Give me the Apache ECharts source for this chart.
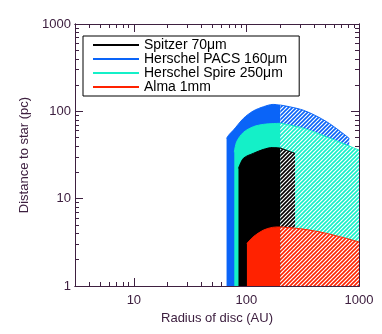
<!DOCTYPE html>
<html>
<head>
<meta charset="utf-8">
<script src="https://cdn.jsdelivr.net/npm/echarts@6/dist/echarts.min.js"></script>
<style>
  html, body { margin: 0; padding: 0; background: #fff; }
  #main { width: 382px; height: 334px; }
</style>
</head>
<body>
<div id="main"></div>
<script>
// disc radius (AU) / max distance (pc), solid part up to 200 AU, hatched beyond
const pacsR = [66.6, 70, 76.7, 94, 115, 142, 172, 200]
const pacsD = [49, 54, 61, 83, 101, 113, 120, 118]
const pacsHatchR = [200, 320, 516, 820]
const pacsHatchD = [118, 103, 76, 49]

const spireR = [78, 82, 94, 115, 142, 200]
const spireD = [34, 45, 57.4, 66.6, 71, 73]
const spireHatchR = [200, 320, 516, 1000]
const spireHatchD = [73, 64, 51, 36]

const spitzerR = [85, 94, 115, 142, 170, 200]
const spitzerD = [22.2, 29, 33, 36.7, 38.5, 38]
const spitzerHatchR = [200, 270]
const spitzerHatchD = [38, 33]

const almaR = [101, 115, 142, 170, 200]
const almaD = [3.07, 3.66, 4.37, 4.69, 4.75]
const almaHatchR = [200, 320, 516, 1000]
const almaHatchD = [4.75, 4.48, 4.0, 3.2]

const xMajor = [10, 100, 1000]
const xMinor = [3, 4, 5, 6, 7, 8, 9, 20, 30, 40, 50, 60, 70, 80, 90, 200, 300, 400, 500, 600, 700, 800, 900]
const yMajor = [1, 10, 100, 1000]
const yMinor = [2, 3, 4, 5, 6, 7, 8, 9, 20, 30, 40, 50, 60, 70, 80, 90, 200, 300, 400, 500, 600, 700, 800, 900]

const names = ['Spitzer 70μm', 'Herschel PACS 160μm', 'Herschel Spire 250μm', 'Alma 1mm']
const colors = {
    'Spitzer 70μm': '#000000',
    'Herschel PACS 160μm': '#0a64f8',
    'Herschel Spire 250μm': '#14f0c8',
    'Alma 1mm': '#ff2200'
}

const axisColor = '#3e2040'
const font = 'Liberation Sans'

function zip(a, b) {
    return a.map((v, i) => [v, b[i]])
}

// diagonal hatch on white, like idl line_fill
function hatch(color) {
    const c = document.createElement('canvas')
    c.width = 4; c.height = 4
    const g = c.getContext('2d')
    g.fillStyle = '#fff'
    g.fillRect(0, 0, 4, 4)
    g.strokeStyle = color
    g.lineWidth = 1.6
    g.beginPath()
    g.moveTo(-1, 5); g.lineTo(5, -1)
    g.moveTo(-1, 1); g.lineTo(1, -1)
    g.moveTo(3, 5); g.lineTo(5, 3)
    g.stroke()
    return {image: c, repeat: 'repeat'}
}

function area(name, r, d, fill) {
    return {
        name: name,
        type: 'line',
        data: zip(r, d),
        smooth: 0.3,
        symbol: 'none',
        lineStyle: {width: 1, color: colors[name]},
        itemStyle: {color: colors[name]},
        areaStyle: {color: fill, opacity: 1, origin: 'start'},
        silent: true
    }
}

function powLabel(major) {
    return v => major.includes(Math.round(v)) ? String(Math.round(v)) : ''
}

function xAxisOf(pos, major, withLabel) {
    const ax = {
        type: 'log',
        logBase: 10,
        min: 3,
        max: 1000,
        position: pos,
        axisLine: {show: true, onZero: false, lineStyle: {color: axisColor, width: 1}},
        axisTick: {show: true, inside: true, length: major ? 8 : 4,
            customValues: major ? xMajor : xMinor,
            lineStyle: {color: axisColor, width: 1}},
        axisLabel: {show: withLabel, color: axisColor, fontSize: 13, fontFamily: font,
            margin: 8, formatter: powLabel(xMajor)},
        splitLine: {show: false}
    }
    if (withLabel) {
        ax.name = 'Radius of disc (AU)'
        ax.nameLocation = 'middle'
        ax.nameGap = 22
        ax.nameTextStyle = {color: axisColor, fontSize: 13, fontFamily: font}
    }
    return ax
}

function yAxisOf(pos, major, withLabel) {
    const ax = {
        type: 'log',
        logBase: 10,
        min: 1,
        max: 1000,
        position: pos,
        axisLine: {show: true, onZero: false, lineStyle: {color: axisColor, width: 1}},
        axisTick: {show: true, inside: true, length: major ? 8 : 4,
            customValues: major ? yMajor : yMinor,
            lineStyle: {color: axisColor, width: 1}},
        axisLabel: {show: withLabel, color: axisColor, fontSize: 13, fontFamily: font,
            margin: 4, formatter: powLabel(yMajor)},
        splitLine: {show: false}
    }
    if (withLabel) {
        ax.name = 'Distance to star (pc)'
        ax.nameLocation = 'middle'
        ax.nameGap = 42
        ax.nameTextStyle = {color: axisColor, fontSize: 13, fontFamily: font}
    }
    return ax
}

const myChart = echarts.init(document.getElementById('main'))
myChart.setOption({
    animation: false,
    backgroundColor: '#fff',
    grid: {left: 75, right: 23, top: 24, bottom: 48},
    xAxis: [
        xAxisOf('bottom', true, true),
        xAxisOf('bottom', false, false),
        xAxisOf('top', true, false),
        xAxisOf('top', false, false)
    ],
    yAxis: [
        yAxisOf('left', true, true),
        yAxisOf('left', false, false),
        yAxisOf('right', true, false),
        yAxisOf('right', false, false)
    ],
    legend: {
        data: names.map(n => ({name: n, itemStyle: {color: colors[n]}})),
        orient: 'vertical',
        left: 83,
        top: 36,
        icon: 'rect',
        itemWidth: 46,
        itemHeight: 2,
        itemGap: 0,
        padding: [2, 12, 2, 10],
        backgroundColor: '#fff',
        borderColor: '#000',
        borderWidth: 1,
        selectedMode: false,
        textStyle: {color: '#000', fontSize: 14, fontFamily: font, lineHeight: 12.3}
    },
    series: [
        area(names[1], pacsR, pacsD, colors[names[1]]),
        area(names[1], pacsHatchR, pacsHatchD, hatch(colors[names[1]])),
        area(names[2], spireR, spireD, colors[names[2]]),
        area(names[2], spireHatchR, spireHatchD, hatch(colors[names[2]])),
        area(names[0], spitzerR, spitzerD, colors[names[0]]),
        area(names[0], spitzerHatchR, spitzerHatchD, hatch(colors[names[0]])),
        area(names[3], almaR, almaD, colors[names[3]]),
        area(names[3], almaHatchR, almaHatchD, hatch(colors[names[3]]))
    ]
})
window.addEventListener('resize', myChart.resize)
</script>
</body>
</html>
